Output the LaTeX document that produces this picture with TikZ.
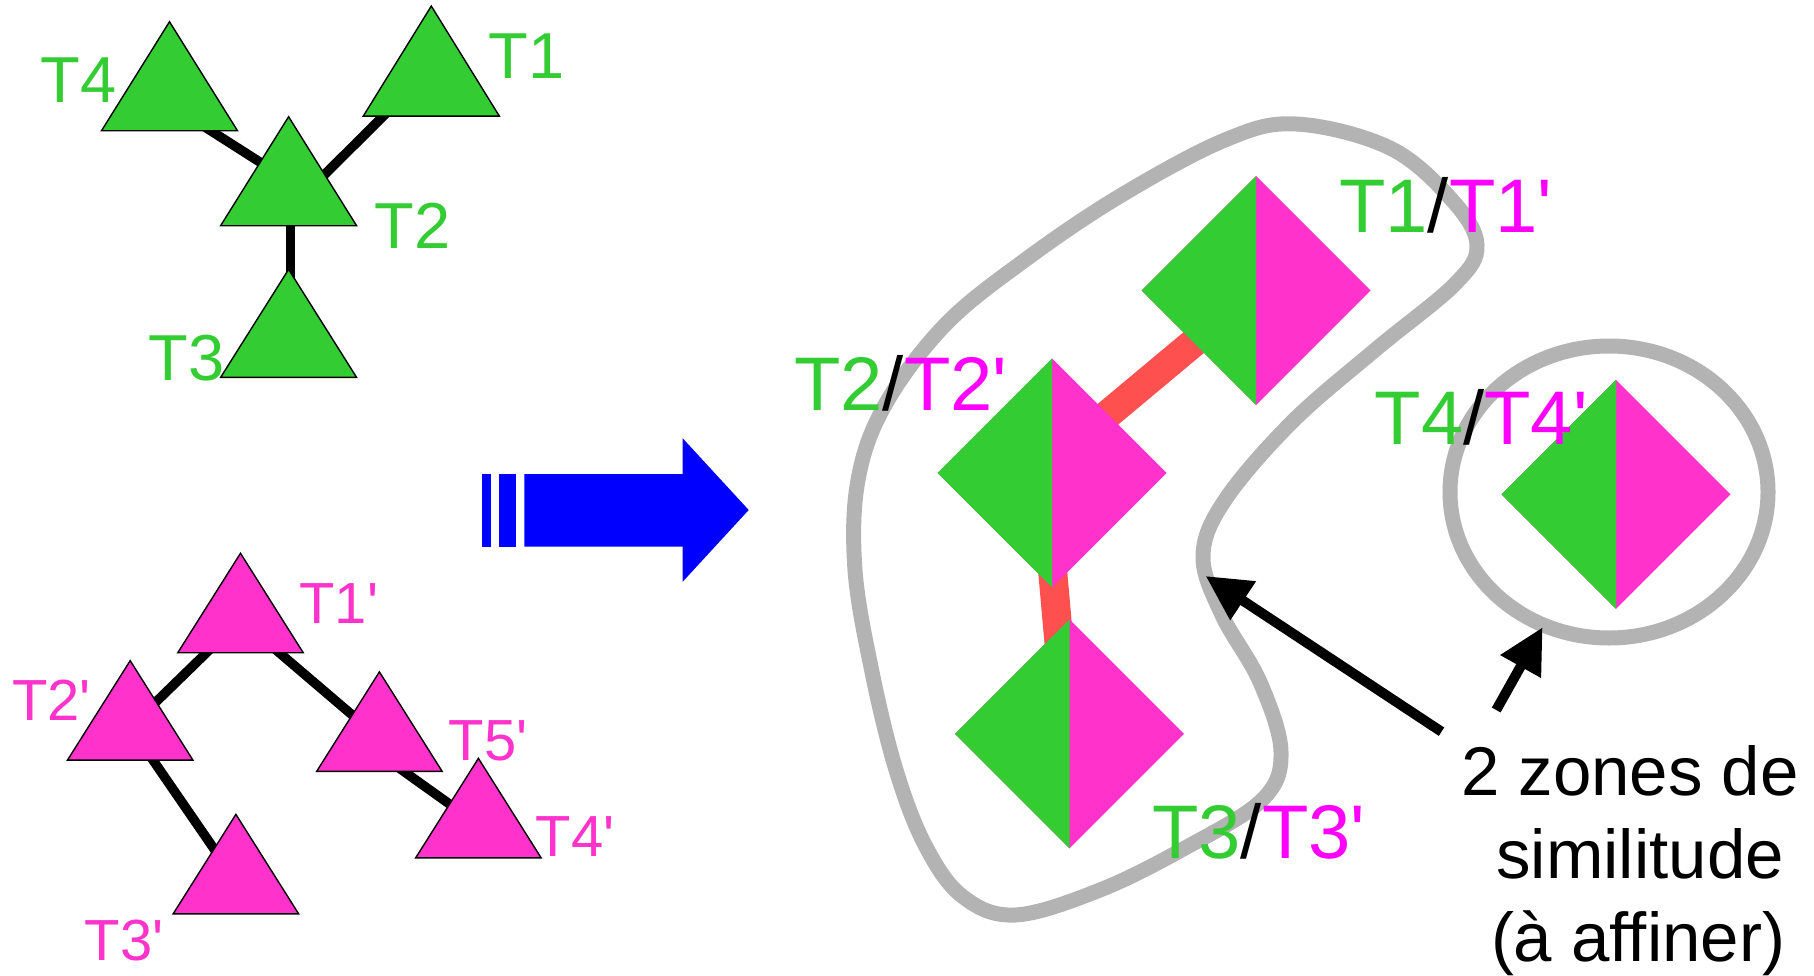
\documentclass[tikz,border=0pt]{standalone}
\usepackage{fontspec}
\setmainfont{Liberation Sans}[Ligatures=TeXOff]
\usetikzlibrary{arrows.meta,calc}

\definecolor{leafgreen}{HTML}{33CC33}
\definecolor{leafpink}{HTML}{FF33CC}
\definecolor{labelmag}{HTML}{FF00FF}
\definecolor{linkred}{HTML}{FF5050}
\definecolor{zonegray}{HTML}{B3B3B3}

% font of a given size in pt
\newcommand{\fs}[1]{\fontsize{#1}{#1}\selectfont}
% triangle of base #3 and height #4 around the centroid #2
\newcommand{\tri}[4]{\path[#1] (#2) ++(0,-#4*2/3) -- ++(#3/2,#4) -- ++(-#3,0) -- cycle;}
% half green / half pink diamond around #1
\newcommand{\diam}[1]{%
  \fill[leafpink] (#1) ++(0,-114.5) -- ++(114.5,114.5) -- ++(-114.5,114.5) -- ++(-114.5,-114.5) -- cycle;
  \fill[leafgreen] (#1) ++(0,-114.5) -- ++(-114.5,114.5) -- ++(114.5,114.5) -- cycle;}

\begin{document}
\begin{tikzpicture}[x=1pt,y=-1pt,
  edge/.style={line width=9.5pt},
  gtri/.style={fill=leafgreen,draw=black,line width=1.4pt},
  ptri/.style={fill=leafpink,draw=black,line width=1.4pt},
  band/.style={draw=linkred,line width=29pt},
  zone/.style={draw=zonegray,line width=15pt},
  glbl/.style={anchor=base west,inner sep=0pt,text=leafgreen,font=\fs{65}},
  plbl/.style={anchor=base west,inner sep=0pt,text=leafpink,font=\fs{58}},
  pair/.style={anchor=base west,inner sep=0pt,text=black,font=\fs{76}},
  note/.style={anchor=base,inner sep=0pt,text=black,font=\fs{69}},
  pointer/.style={line width=10pt,-{Triangle[length=45pt,width=44pt]}},
]
\useasboundingbox (0,0) rectangle (1814,976);

% ---- first tree (green) ----
\coordinate (t4) at (169.5,94.4);
\coordinate (t1) at (431.3,79.4);
\coordinate (t2) at (288.6,189.4);
\coordinate (t3) at (288.6,341.4);
\draw[edge] ($(t4)+(0,10)$) -- ($(t2)+(0,-9)$);
\draw[edge] ($(t1)+(-11,0)$) -- ($(t2)+(21,0)$);
\draw[edge] ([xshift=2pt]t2) -- ([xshift=2pt]t3);
\tri{gtri}{t4}{136}{109}
\tri{gtri}{t1}{136}{110}
\tri{gtri}{t2}{136}{109}
\tri{gtri}{t3}{136}{108}
\node[glbl] (l4) at (40.5,103) {T4};
\node[glbl] (l1) at (488.5,79) {T1};
\node[glbl] (l2) at (374.5,249) {T2};
\node[glbl] (l3) at (148.5,380) {T3};

% ---- second tree (pink) ----
\coordinate (p1) at (240.5,619.6);
\coordinate (p2) at (130.2,727);
\coordinate (p5) at (379.4,738.2);
\coordinate (p4) at (478.4,824.7);
\coordinate (p3) at (235.9,880.7);
\draw[edge] (p1) -- (p2);
\draw[edge] (p1) -- (p5);
\draw[edge] (p2) -- (p3);
\draw[edge] ($(p5)+(-22,0)$) -- (p4);
\tri{ptri}{p1}{125.5}{99.5}
\tri{ptri}{p2}{125.5}{99.5}
\tri{ptri}{p5}{125.5}{99.5}
\tri{ptri}{p4}{125.5}{99.5}
\tri{ptri}{p3}{125.5}{99.5}
\node[plbl] (m1) at (299.3,623.3) {T1'};
\node[plbl] (m2) at (12,720) {T2'};
\node[plbl] (m5) at (448.5,760) {T5'};
\node[plbl] (m4) at (535.7,856.7) {T4'};
\node[plbl] (m3) at (84.5,960) {T3'};

% ---- big blue arrow ----
\fill[blue] (482,474) rectangle (491,546.7);
\fill[blue] (499,474) rectangle (516,546.7);
\fill[blue] (524.3,474) -- (682.7,474) -- (682.7,438.3) -- (748.7,510)
  -- (682.7,581.7) -- (682.7,546.7) -- (524.3,546.7) -- cycle;

% ---- zones ----
\draw[zone] plot[smooth cycle, tension=0.6] coordinates {
  (1296,124) (1390,148) (1452,200) (1477,245) (1455,284) (1375,350)
  (1292,422) (1225,500) (1203,556) (1222,615) (1260,682) (1281,752)
  (1262,800) (1185,848) (1100,890) (1015,915) (962,896) (925,845)
  (896,770) (872,672) (855,570) (858,480) (885,405) (945,325)
  (1025,260) (1120,196) (1225,140)};
\coordinate (zc) at (1609,492);
\draw[zone] (zc) ellipse [x radius=159pt, y radius=146pt];

% ---- matched pairs ----
\coordinate (d1) at (1256,290.5);
\coordinate (d2) at (1052,473);
\coordinate (d3) at (1069.5,733.8);
\coordinate (d4) at (1616,494.3);
\draw[band] (d1) -- ($(d2)+(0,-12)$);
\draw[band] ($(d2)+(-8,0)$) -- ($(d3)+(-2.5,0)$);
\diam{d1}
\diam{d2}
\diam{d3}
\diam{d4}
\node[pair] (q1) at (1339,233) {\textcolor{leafgreen}{T1}/\textcolor{labelmag}{T1'}};
\node[pair] (q2) at (794,410.7) {\textcolor{leafgreen}{T2}/\textcolor{labelmag}{T2'}};
\node[pair] (q4) at (1374.5,444.5) {\textcolor{leafgreen}{T4}/\textcolor{labelmag}{T4'}};
\node[pair] (q3) at (1152,858.3) {\textcolor{leafgreen}{T3}/\textcolor{labelmag}{T3'}};

% ---- note with its two pointers ----
\node[note] (n1) at (1630,795) {2 zones de};
\node[note] (n2) at (1640,878.3) {similitude};
\node[note] (n3) at (1638,961) {(à affiner)};
\coordinate (a1) at (1441.5,731.7);
\coordinate (b1) at (1205.6,576);
\coordinate (a2) at (1496.2,710);
\coordinate (b2) at (1542.6,627.3);
\draw[pointer] (a1) -- (b1);
\draw[pointer] (a2) -- (b2);
\end{tikzpicture}
\end{document}
